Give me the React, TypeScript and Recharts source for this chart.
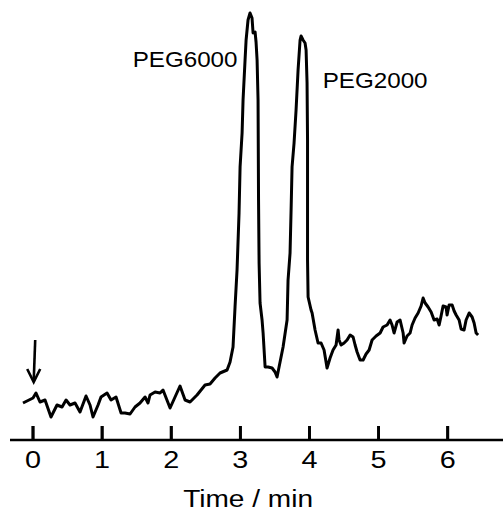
import React from "react";
import { LineChart, Line, XAxis, YAxis, ReferenceLine, ReferenceDot } from "recharts";

// Retention time (min) and detector signal (arbitrary units)
const times = [
  -0.145, 0, 0.043, 0.101, 0.174, 0.26, 0.347, 0.42, 0.478, 0.535, 0.608, 0.68, 0.767, 0.825, 0.868, 0.941,
  0.984, 1.071, 1.129, 1.201, 1.274, 1.331, 1.404, 1.476, 1.548, 1.621, 1.664, 1.693, 1.766, 1.838, 1.881,
  1.983, 2.055, 2.127, 2.2, 2.272, 2.373, 2.489, 2.561, 2.634, 2.706, 2.808, 2.851, 2.894, 2.923, 2.952,
  2.981, 2.996, 3.025, 3.039, 3.068, 3.083, 3.111, 3.14, 3.169, 3.184, 3.213, 3.227, 3.242, 3.256, 3.263,
  3.271, 3.285, 3.314, 3.329, 3.358, 3.401, 3.459, 3.502, 3.531, 3.56, 3.618, 3.676, 3.69, 3.719, 3.734,
  3.748, 3.777, 3.806, 3.835, 3.864, 3.878, 3.907, 3.936, 3.951, 3.965, 3.972, 3.972, 3.972, 3.98, 4.023,
  4.038, 4.081, 4.124, 4.168, 4.211, 4.24, 4.254, 4.298, 4.341, 4.385, 4.414, 4.428, 4.457, 4.501, 4.544,
  4.588, 4.631, 4.66, 4.689, 4.732, 4.776, 4.819, 4.863, 4.906, 4.964, 5.022, 5.065, 5.123, 5.166, 5.195,
  5.224, 5.268, 5.311, 5.355, 5.369, 5.412, 5.456, 5.485, 5.528, 5.572, 5.615, 5.644, 5.673, 5.716, 5.76,
  5.803, 5.847, 5.876, 5.904, 5.933, 5.977, 5.991, 6.02, 6.064, 6.093, 6.122, 6.165, 6.194, 6.237, 6.266,
  6.31, 6.353, 6.382, 6.411, 6.44,
];
const signal = [
  37, 42, 47, 38, 40, 23, 35, 33, 40, 35, 37, 28, 44, 35, 23, 35,
  43, 47, 40, 43, 27, 27, 26, 33, 37, 43, 37, 45, 48, 47, 50,
  32, 43, 54, 40, 38, 45, 55, 56, 62, 67, 70, 78, 93, 133, 170,
  227, 273, 307, 340, 380, 400, 420, 427, 422, 407, 408, 398, 380, 340, 240,
  177, 137, 120, 107, 73, 73, 72, 68, 63, 73, 93, 120, 160, 187, 230,
  273, 297, 330, 370, 400, 404, 400, 397, 390, 357, 300, 240, 180, 143, 130,
  127, 110, 97, 97, 90, 78, 72, 82, 90, 95, 110, 100, 95, 97, 100,
  105, 103, 95, 88, 80, 80, 86, 90, 100, 104, 107, 113, 115, 120, 115,
  107, 118, 120, 107, 97, 104, 107, 115, 122, 127, 134, 142, 137, 133, 128,
  120, 121, 115, 124, 134, 133, 125, 135, 135, 129, 125, 120, 111, 110, 120,
  127, 123, 117, 107, 105,
];
const xTicks = [0, 1, 2, 3, 4, 5, 6];
const peakNames = ["PEG6000", "PEG2000"];
const peakLabelTimes = [2.2, 4.95];
const peakLabelSignals = [373, 352];
const injectionTime = 0.01;
const arrowTop = 100;
const arrowTip = 58;
const tickMarkHeight = 14;

const data = times.map((t, i) => ({ t, s: signal[i] }));
// inward tick marks drawn as short vertical segments, separated by gaps
const tickMarkData = xTicks.flatMap((t) => [
  { t, m: 0 },
  { t, m: tickMarkHeight },
  { t: t + 0.001, m: null },
]);

const FONT = "'Liberation Sans', Arial, Helvetica, sans-serif";

const Tick = (props: any) => {
  const { x, y, payload } = props;
  return (
    <g>
      <rect x={x - 1.4} y={y - 14} width={2.8} height={14} fill="#000" />
      <text
        transform={`translate(${x},${y + 28}) scale(1.2,1)`}
        textAnchor="middle"
        fontSize={24}
        fontFamily={FONT}
        fill="#000"
      >
        {payload.value}
      </text>
    </g>
  );
};

const Arrow = (props: any) => {
  const { x1, y1, y2 } = props;
  const x = x1;
  const tip = Math.max(y1, y2);
  const top = Math.min(y1, y2);
  return (
    <g>
      <line x1={x + 1.5} y1={top} x2={x} y2={tip - 1} stroke="#000" strokeWidth={2.6} />
      <path
        d={`M${x - 6.5},${tip - 13} L${x},${tip} L${x + 6.5},${tip - 13}`}
        fill="none"
        stroke="#000"
        strokeWidth={2.6}
      />
    </g>
  );
};

const makeLabel = (name: string) => (props: any) => {
  const { cx, cy } = props;
  return (
    <text
      transform={`translate(${cx},${cy}) scale(1.1,1)`}
      textAnchor="middle"
      fontSize={22}
      fontFamily={FONT}
      fill="#000"
    >
      {name}
    </text>
  );
};

export default function App() {
  return (
    <div style={{ position: "absolute", left: 0, top: 0, background: "#fff" }}>
      <LineChart width={503} height={514} data={data} margin={{ top: 0, right: 0, bottom: 0, left: 10 }}>
        <XAxis
          dataKey="t"
          type="number"
          domain={[-0.333, 6.8]}
          allowDataOverflow
          ticks={xTicks}
          interval={0}
          height={74}
          tickSize={0}
          tickMargin={0}
          tickLine={false}
          axisLine={{ stroke: "#000", strokeWidth: 2.6 }}
          tick={<Tick />}
          label={{
            content: (p: any) => {
              const vb = p.viewBox;
              return (
                <text
                  transform={`translate(${vb.x + vb.width * 0.483},${vb.y + 67}) scale(1.17,1)`}
                  textAnchor="middle"
                  fontSize={24}
                  fontFamily={FONT}
                  fill="#000"
                >
                  Time / min
                </text>
              );
            },
          }}
        />
        <YAxis hide type="number" domain={[0, 440]} allowDataOverflow />
        <Line
          type="linear"
          dataKey="s"
          stroke="#000"
          strokeWidth={3}
          dot={false}
          isAnimationActive={false}
          strokeLinejoin="round"
        />
        <Line
          data={tickMarkData}
          type="linear"
          dataKey="m"
          stroke="#000"
          strokeWidth={2.8}
          dot={false}
          activeDot={false}
          connectNulls={false}
          isAnimationActive={false}
          legendType="none"
        />
        <ReferenceLine
          segment={[
            { x: injectionTime, y: arrowTop },
            { x: injectionTime, y: arrowTip },
          ]}
          shape={<Arrow />}
          ifOverflow="visible"
        />
        {peakNames.map((n, i) => (
          <ReferenceDot
            key={n}
            x={peakLabelTimes[i]}
            y={peakLabelSignals[i]}
            r={0}
            ifOverflow="visible"
            shape={makeLabel(n)}
          />
        ))}
      </LineChart>
    </div>
  );
}
